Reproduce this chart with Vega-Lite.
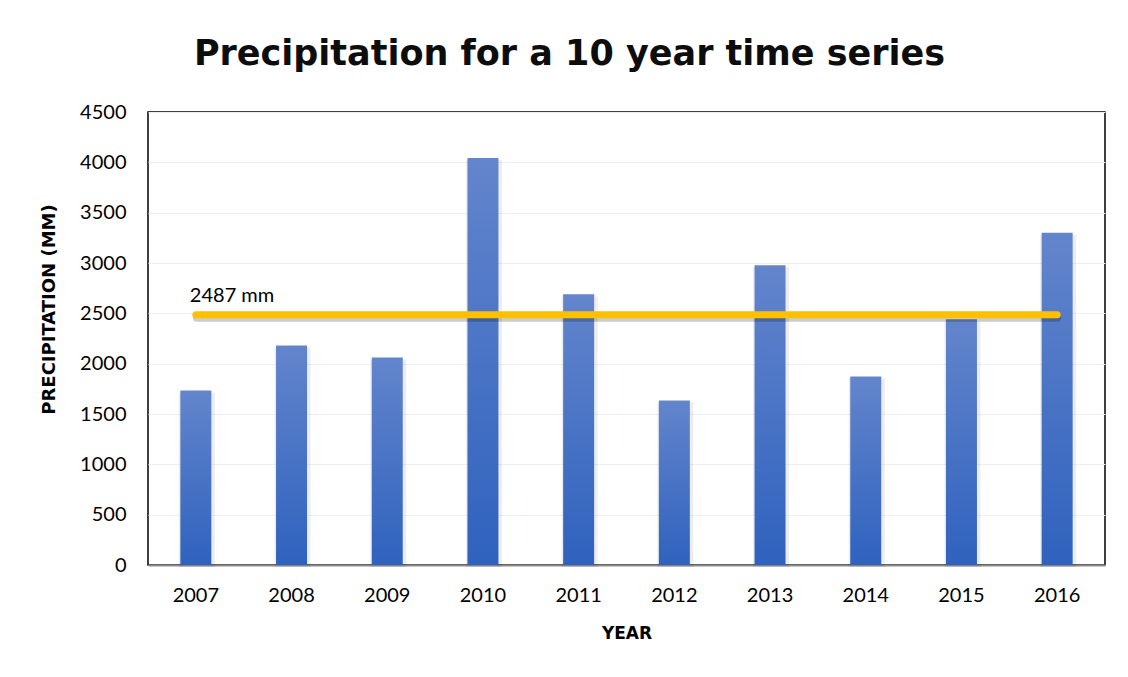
{
  "$schema": "https://vega.github.io/schema/vega-lite/v6.json",
  "width": 957,
  "height": 453,
  "autosize": {"type": "none"},
  "padding": {"left": 148, "top": 112, "right": 23, "bottom": 112},
  "background": "white",
  "title": {
    "text": "Precipitation for a 10 year time series",
    "font": "DejaVu Sans",
    "fontSize": 35,
    "fontWeight": "bold",
    "color": "#0d0d0d",
    "anchor": "middle",
    "dx": -57,
    "offset": 30
  },
  "config": {
    "view": {"stroke": "#000000", "strokeWidth": 1.5},
    "axis": {
      "labelFont": "Lato",
      "titleFont": "DejaVu Sans",
      "labelColor": "#000000",
      "titleColor": "#000000",
      "ticks": false
    }
  },
  "data": {
    "values": [
      {"year": "2007", "precip": 1733},
      {"year": "2008", "precip": 2181},
      {"year": "2009", "precip": 2062},
      {"year": "2010", "precip": 4044},
      {"year": "2011", "precip": 2689},
      {"year": "2012", "precip": 1633},
      {"year": "2013", "precip": 2978},
      {"year": "2014", "precip": 1873},
      {"year": "2015", "precip": 2440},
      {"year": "2016", "precip": 3300}
    ]
  },
  "encoding": {
    "x": {
      "field": "year",
      "type": "ordinal",
      "scale": {"paddingInner": 0.676, "paddingOuter": 0.338},
      "axis": {
        "title": "YEAR",
        "titleFontSize": 17,
        "titleFontWeight": "bold",
        "titlePadding": 20,
        "labelAngle": 0,
        "labelFontSize": 20,
        "labelPadding": 20,
        "domainColor": "#8c8c8c",
        "domainWidth": 2
      }
    },
    "y": {
      "field": "precip",
      "type": "quantitative",
      "scale": {"domain": [0, 4500], "nice": false},
      "axis": {
        "title": "PRECIPITATION  (MM)",
        "titleFontSize": 18,
        "titleFontWeight": "bold",
        "titlePadding": 21,
        "titleY": 197,
        "format": "d",
        "labelFontSize": 20,
        "labelPadding": 22,
        "values": [0, 500, 1000, 1500, 2000, 2500, 3000, 3500, 4000, 4500],
        "domain": false,
        "grid": true,
        "gridColor": "#efefef",
        "gridWidth": 1
      }
    }
  },
  "layer": [
    {
      "mark": {"type": "bar", "color": "#000000", "opacity": 0.07, "width": 36, "xOffset": 1, "yOffset": 2}
    },
    {
      "mark": {
        "type": "bar",
        "color": {
          "gradient": "linear",
          "x1": 0, "y1": 0, "x2": 0, "y2": 1,
          "stops": [
            {"offset": 0, "color": "#6385cc"},
            {"offset": 1, "color": "#2f62be"}
          ]
        }
      }
    },
    {
      "data": {"values": [{"from": "2007", "to": "2016", "mean": 2487, "label": "2487 mm"}]},
      "layer": [
        {
          "mark": {"type": "rule", "color": "#000000", "opacity": 0.2, "strokeWidth": 8, "strokeCap": "round", "yOffset": 3, "xOffset": 1},
          "encoding": {
            "x": {"field": "from", "type": "ordinal"},
            "x2": {"field": "to"},
            "y": {"field": "mean", "type": "quantitative"}
          }
        },
        {
          "mark": {"type": "rule", "color": "#ffc000", "strokeWidth": 7, "strokeCap": "round"},
          "encoding": {
            "x": {"field": "from", "type": "ordinal"},
            "x2": {"field": "to"},
            "y": {"field": "mean", "type": "quantitative"}
          }
        },
        {
          "mark": {"type": "text", "font": "Lato", "fontSize": 20, "color": "#000000", "align": "left", "baseline": "middle", "dx": -6, "dy": -19},
          "encoding": {
            "x": {"field": "from", "type": "ordinal"},
            "y": {"field": "mean", "type": "quantitative"},
            "text": {"field": "label"}
          }
        }
      ]
    }
  ]
}
